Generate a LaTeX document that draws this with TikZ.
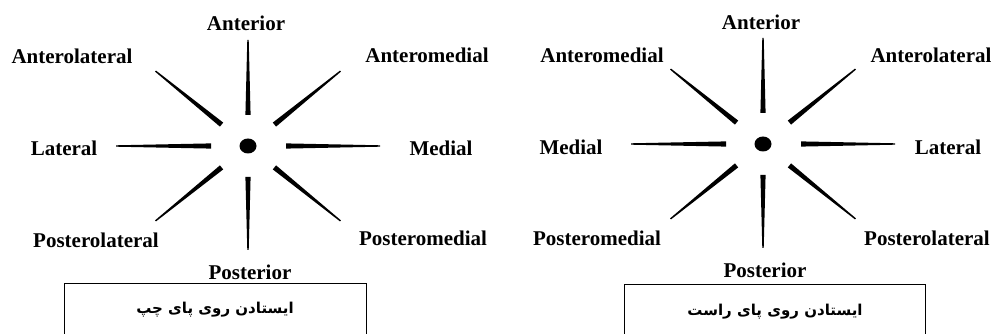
\documentclass[tikz,border=0pt]{standalone}
\usepackage{fontspec}
\setmainfont{Liberation Serif}
\newfontfamily\arabicfont[Script=Arabic]{DejaVu Sans}
\TeXXeTstate=1
\usetikzlibrary{calc}
\tikzset{
  lbl/.style={font=\fontsize{21}{24}\selectfont\bfseries, inner sep=0pt},
  fa/.style={font=\arabicfont\fontsize{15}{18}\selectfont\bfseries, inner sep=0pt},
  ray/.style={fill=black}
}
\begin{document}
\begin{tikzpicture}[x=1pt,y=1pt]
\clip (0,0) rectangle (993,334);
\coordinate (cl) at (248,188);
\coordinate (cr) at (763,190);
\fill (cl) circle [x radius=8.5, y radius=7.5];
\fill (cr) circle [x radius=8.5, y radius=7.5];
\foreach \c in {cl,cr}
  \foreach \a/\ri/\ro in {0/38/132, 39/34/119, 90/31/106, 141/34/119, 180/37/132, 219/34/119, 270/31/104, 321/34/119}
    \fill[ray] ($(\c)+(\a:\ri)+(\a+90:2.6)$) -- ($(\c)+(\a:\ro)+(\a+90:0.7)$)
      -- ($(\c)+(\a:\ro)+(\a-90:0.7)$) -- ($(\c)+(\a:\ri)+(\a-90:2.6)$) -- cycle;
\node[lbl] (la) at (246,311) {Anterior};
\node[lbl] (lal) at (72,278) {Anterolateral};
\node[lbl] (lam) at (427,279) {Anteromedial};
\node[lbl] (ll) at (64,186) {Lateral};
\node[lbl] (lm) at (441,186) {Medial};
\node[lbl] (lpl) at (96,94) {Posterolateral};
\node[lbl] (lpm) at (423,96) {Posteromedial};
\node[lbl] (lp) at (250,62) {Posterior};
\node[lbl] (ra) at (761,312) {Anterior};
\node[lbl] (ram) at (602,279) {Anteromedial};
\node[lbl] (ral) at (931,279) {Anterolateral};
\node[lbl] (rm) at (571,187) {Medial};
\node[lbl] (rl) at (948,187) {Lateral};
\node[lbl] (rpm) at (597,96) {Posteromedial};
\node[lbl] (rpl) at (927,96) {Posterolateral};
\node[lbl] (rp) at (765,64) {Posterior};
\draw[line width=1pt] (64,-10) rectangle (366,50);
\draw[line width=1pt] (624,-10) rectangle (925,49);
\node[fa] (lbox) at (215,24) {\beginR ایستادن روی پای چپ\endR};
\node[fa] (rbox) at (775,22) {\beginR ایستادن روی پای راست\endR};
\end{tikzpicture}
\end{document}
